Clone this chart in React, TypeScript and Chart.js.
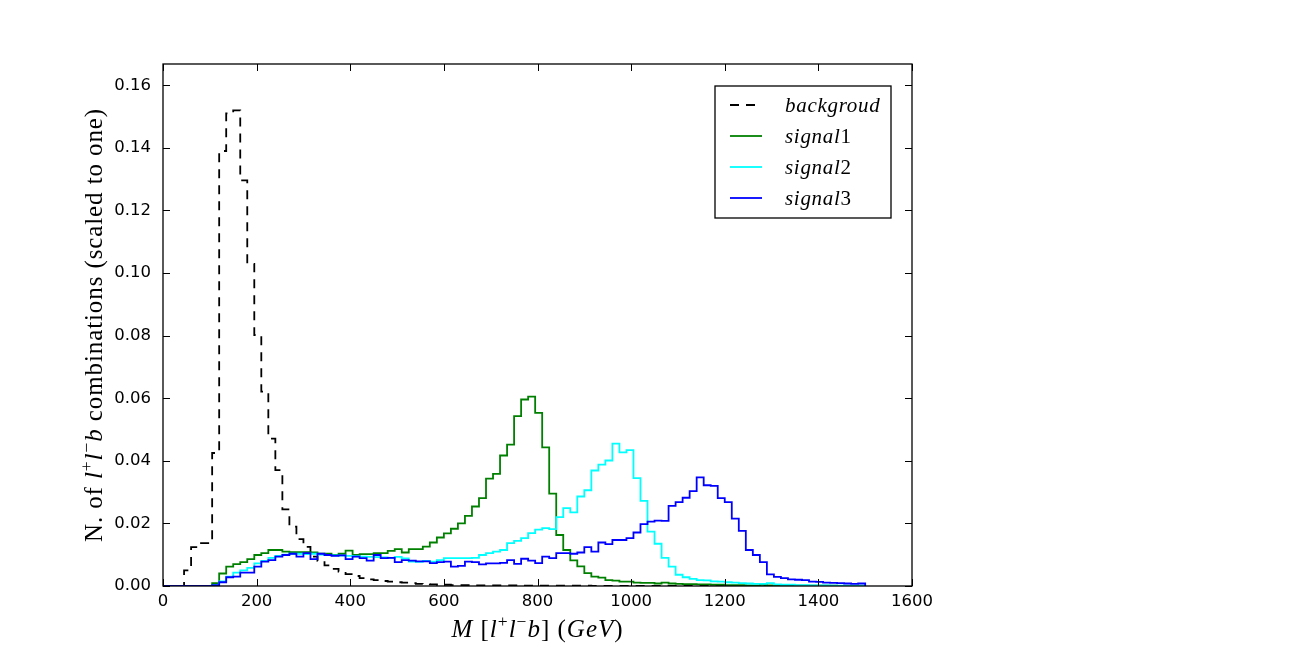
import { useEffect, useRef } from "react";
import { Chart, registerables } from "chart.js";

Chart.register(...registerables);

// Histogram bin edges (GeV): 100 bins of 15 GeV from 0 to 1500
const BIN_WIDTH = 15;
const binStarts: number[] = Array.from({ length: 100 }, (_, i) => i * BIN_WIDTH);
const LAST_EDGE = 1500;

const xTicks = [0, 200, 400, 600, 800, 1000, 1200, 1400, 1600];
const yTicks = [0, 0.02, 0.04, 0.06, 0.08, 0.1, 0.12, 0.14, 0.16];

const labels = ["backgroud", "signal1", "signal2", "signal3"];

const background = [
  0, 0, 0, 0.005, 0.0124, 0.0137, 0.0137, 0.0425, 0.139, 0.151,
  0.152, 0.1296, 0.1029, 0.0802, 0.0621, 0.0471, 0.037, 0.0245, 0.019, 0.015,
  0.0125, 0.0094, 0.008, 0.0066, 0.0055, 0.0046, 0.0038, 0.0032, 0.0025, 0.0021,
  0.0019, 0.0016, 0.0014, 0.0012, 0.0011, 0.0009, 0.0007, 0.0006, 0.0005, 0.0004,
  0.0004, 0.0003, 0.0003, 0.0003, 0.0002, 0.0002, 0.0002, 0.0002, 0.0002, 0.0002,
  0.0002, 0.0001, 0.0001, 0.0001, 0.0001, 0.0001, 0.0001, 0.0001, 0.0001, 0.0001,
  0.0001, 0, 0, 0, 0, 0, 0, 0, 0, 0,
  0, 0, 0, 0, 0, 0, 0, 0, 0, 0,
  0, 0, 0, 0, 0, 0, 0, 0, 0, 0,
  0, 0, 0, 0, 0, 0, 0, 0, 0, 0,
];

const signal1 = [
  0, 0, 0, 0, 0, 0, 0, 0.0009, 0.004, 0.0062,
  0.007, 0.0076, 0.0086, 0.0099, 0.0105, 0.0115, 0.0115, 0.011, 0.0108, 0.0108,
  0.0108, 0.0107, 0.0103, 0.0103, 0.0099, 0.0103, 0.0113, 0.0099, 0.0102, 0.0102,
  0.0105, 0.0105, 0.0112, 0.0118, 0.0107, 0.0118, 0.0118, 0.0126, 0.0139, 0.0155,
  0.0168, 0.0183, 0.02, 0.0224, 0.0254, 0.0281, 0.0343, 0.0358, 0.0417, 0.0452,
  0.0543, 0.0596, 0.0605, 0.0553, 0.0443, 0.0295, 0.0163, 0.0115, 0.0082, 0.0063,
  0.0041, 0.003, 0.0027, 0.0019, 0.0017, 0.0014, 0.0014, 0.0011, 0.001, 0.001,
  0.0008, 0.0011, 0.0008, 0.0007, 0.0006, 0.0006, 0.0005, 0.0005, 0.0004, 0.0004,
  0.0003, 0.0003, 0.0003, 0.0002, 0.0002, 0.0004, 0.0002, 0.0001, 0.0001, 0.0001,
  0.0001, 0.0001, 0.0001, 0.0001, 0.0001, 0.0001, 0, 0, 0, 0,
];

const signal2 = [
  0, 0, 0, 0, 0, 0, 0, 0.0003, 0.0015, 0.003,
  0.0043, 0.005, 0.0058, 0.0072, 0.008, 0.009, 0.0096, 0.01, 0.0103, 0.0103,
  0.0102, 0.0103, 0.01, 0.0099, 0.0098, 0.0097, 0.0096, 0.0095, 0.0094, 0.0093,
  0.0092, 0.0091, 0.009, 0.0093, 0.0088, 0.0078, 0.0077, 0.008, 0.0078, 0.0083,
  0.0089, 0.0089, 0.0089, 0.0089, 0.009, 0.0099, 0.0105, 0.011, 0.0115, 0.0137,
  0.0144, 0.0153, 0.0169, 0.018, 0.0185, 0.0182, 0.022, 0.0249, 0.0235, 0.0286,
  0.0306, 0.0369, 0.0388, 0.0401, 0.0455, 0.0427, 0.0434, 0.0345, 0.0272, 0.0174,
  0.0135, 0.009, 0.0062, 0.0036, 0.0028, 0.0023, 0.0019, 0.0018, 0.0015, 0.0014,
  0.0012, 0.0011, 0.0009, 0.0008, 0.0007, 0.0007, 0.0009, 0.0005, 0.0004, 0.0004,
  0.0003, 0.0003, 0.0002, 0.0002, 0.0002, 0.0001, 0.0001, 0.0001, 0.0001, 0.0001,
];

const signal3 = [
  0, 0, 0, 0, 0, 0, 0, 0.0003, 0.0012, 0.0028,
  0.003, 0.0043, 0.0043, 0.0062, 0.0078, 0.0083, 0.0094, 0.0099, 0.0103, 0.0094,
  0.0105, 0.0086, 0.0103, 0.0099, 0.0096, 0.0098, 0.0086, 0.0094, 0.0089, 0.0081,
  0.0099, 0.0089, 0.009, 0.0076, 0.0083, 0.0081, 0.0079, 0.0079, 0.0073, 0.0076,
  0.0078, 0.0062, 0.0064, 0.0078, 0.0076, 0.0069, 0.0072, 0.0072, 0.0074, 0.0083,
  0.0071, 0.0087, 0.0081, 0.0073, 0.0094, 0.0089, 0.0105, 0.0105, 0.0103, 0.0107,
  0.0124, 0.011, 0.0139, 0.0134, 0.0147, 0.0147, 0.0153, 0.0171, 0.0198, 0.0206,
  0.0209, 0.0208, 0.0256, 0.0268, 0.0282, 0.0303, 0.0347, 0.0322, 0.032, 0.0281,
  0.0268, 0.0215, 0.0176, 0.0115, 0.0099, 0.0076, 0.0037, 0.0029, 0.0025, 0.0021,
  0.002, 0.0019, 0.0014, 0.0013, 0.0011, 0.001, 0.0009, 0.0008, 0.0007, 0.0008,
];

const COLORS = ["#000000", "#008000", "#00ffff", "#0000ff"];

type Seg = { t: string; it?: boolean; sup?: boolean };

const SERIF = '"Liberation Serif", "DejaVu Serif", serif';

function segFont(s: Seg, size: number) {
  const sz = s.sup ? size * 0.7 : size;
  return `${s.it ? "italic " : ""}${sz}px ${SERIF}`;
}

function drawRich(
  ctx: CanvasRenderingContext2D,
  segs: Seg[],
  x: number,
  y: number,
  size: number,
  align: "left" | "center",
  rotate: boolean,
  spacing: number
) {
  ctx.save();
  ctx.translate(x, y);
  if (rotate) ctx.rotate(-Math.PI / 2);
  (ctx as any).letterSpacing = `${spacing}px`;
  ctx.textBaseline = "alphabetic";
  ctx.textAlign = "left";
  ctx.fillStyle = "#000";
  const widths = segs.map((s) => {
    ctx.font = segFont(s, size);
    return ctx.measureText(s.t).width;
  });
  const total = widths.reduce((a, b) => a + b, 0);
  let cx = align === "center" ? -total / 2 : 0;
  segs.forEach((s, i) => {
    ctx.font = segFont(s, size);
    ctx.fillText(s.t, cx, s.sup ? -size * 0.42 : 0);
    cx += widths[i];
  });
  ctx.restore();
}

const yTitle: Seg[] = [
  { t: "N. of " },
  { t: "l", it: true },
  { t: "+", sup: true },
  { t: "l", it: true },
  { t: "\u2212", sup: true },
  { t: "b", it: true },
  { t: " combinations (scaled to one)" },
];

const xTitle: Seg[] = [
  { t: "M", it: true },
  { t: " [" },
  { t: "l", it: true },
  { t: "+", sup: true },
  { t: "l", it: true },
  { t: "\u2212", sup: true },
  { t: "b", it: true },
  { t: "] (" },
  { t: "GeV", it: true },
  { t: ")" },
];

const legendSegs: Seg[][] = [
  [{ t: "backgroud", it: true }],
  [{ t: "signal", it: true }, { t: "1" }],
  [{ t: "signal", it: true }, { t: "2" }],
  [{ t: "signal", it: true }, { t: "3" }],
];

const BG_DASH = [9, 7];

const framePlugin = {
  id: "mplFrame",
  afterDatasetsDraw(chart: any) {
    const { ctx, chartArea } = chart;
    const { left, right, top, bottom } = chartArea;
    const xs = chart.scales.x;
    const ys = chart.scales.y;
    ctx.save();
    ctx.strokeStyle = "#000";
    ctx.lineWidth = 1.3;
    ctx.strokeRect(left, top, right - left, bottom - top);
    const TL = 7;
    ctx.lineWidth = 1;
    ctx.beginPath();
    xTicks.forEach((v) => {
      const px = Math.round(xs.getPixelForValue(v)) + 0.5;
      ctx.moveTo(px, bottom);
      ctx.lineTo(px, bottom - TL);
      ctx.moveTo(px, top);
      ctx.lineTo(px, top + TL);
    });
    yTicks.forEach((v) => {
      const py = Math.round(ys.getPixelForValue(v)) + 0.5;
      ctx.moveTo(left, py);
      ctx.lineTo(left + TL, py);
      ctx.moveTo(right, py);
      ctx.lineTo(right - TL, py);
    });
    ctx.stroke();
    ctx.restore();
  },
  afterDraw(chart: any) {
    const { ctx, chartArea } = chart;
    const cxMid = (chartArea.left + chartArea.right) / 2;
    const cyMid = (chartArea.top + chartArea.bottom) / 2;
    drawRich(ctx, yTitle, 102, cyMid, 25, "center", true, 0.9);
    drawRich(ctx, xTitle, cxMid, 637, 25, "center", false, 1.0);

    // legend
    const bx = 715, by = 86, bw = 176, bh = 132;
    ctx.save();
    ctx.fillStyle = "#fff";
    ctx.fillRect(bx, by, bw, bh);
    ctx.strokeStyle = "#000";
    ctx.lineWidth = 1.3;
    ctx.strokeRect(bx, by, bw, bh);
    const rows = [105, 136, 167, 198];
    rows.forEach((ry, i) => {
      ctx.beginPath();
      ctx.strokeStyle = COLORS[i];
      ctx.lineWidth = 1.8;
      ctx.setLineDash(i === 0 ? BG_DASH : []);
      ctx.moveTo(730, ry);
      ctx.lineTo(762, ry);
      ctx.stroke();
      ctx.setLineDash([]);
      drawRich(ctx, legendSegs[i], 785, ry + 6.5, 21, "left", false, 0.7);
    });
    ctx.restore();
  },
};

function histPoints(vals: number[]) {
  const pts = binStarts.map((x, i) => ({ x, y: vals[i] }));
  pts.push({ x: LAST_EDGE, y: 0 });
  return pts;
}

export default function App() {
  const ref = useRef<HTMLCanvasElement | null>(null);

  useEffect(() => {
    if (!ref.current) return;
    const series = [background, signal1, signal2, signal3];
    const chart = new Chart(ref.current, {
      type: "line",
      data: {
        datasets: series.map((vals, i) => ({
          label: labels[i],
          data: histPoints(vals),
          borderColor: COLORS[i],
          backgroundColor: COLORS[i],
          borderWidth: 1.8,
          borderDash: i === 0 ? BG_DASH : [],
          borderJoinStyle: "miter" as const,
          borderCapStyle: "butt" as const,
          pointRadius: 0,
          pointHoverRadius: 0,
          stepped: true,
          fill: false,
          tension: 0,
          order: 4 - i,
        })),
      },
      options: {
        responsive: false,
        animation: false,
        parsing: false,
        events: [],
        layout: { padding: { top: 64, right: 392, bottom: 0, left: 0 } },
        plugins: {
          legend: { display: false },
          tooltip: { enabled: false },
          title: { display: false },
        },
        scales: {
          x: {
            type: "linear",
            min: 0,
            max: 1600,
            grid: { display: false, drawTicks: false },
            border: { display: false },
            ticks: {
              stepSize: 200,
              padding: 6,
              color: "#000",
              font: { family: '"DejaVu Sans", sans-serif', size: 16.5 },
              maxRotation: 0,
              autoSkip: false,
              callback: (v: any) => String(v),
            },
            afterFit: (s: any) => {
              s.height = 66;
            },
          },
          y: {
            type: "linear",
            min: 0,
            max: 0.1668,
            grid: { display: false, drawTicks: false },
            border: { display: false },
            ticks: {
              stepSize: 0.02,
              includeBounds: false,
              padding: 12,
              color: "#000",
              font: { family: '"DejaVu Sans", sans-serif', size: 16.5 },
              callback: (v: any) => Number(v).toFixed(2),
            },
            afterFit: (s: any) => {
              s.width = 163;
            },
          },
        },
      },
      plugins: [framePlugin],
    });
    return () => chart.destroy();
  }, []);

  return (
    <div style={{ position: "absolute", left: 0, top: 0, width: 1304, height: 652, background: "#fff" }}>
      <canvas ref={ref} width={1304} height={652} style={{ width: 1304, height: 652 }} />
    </div>
  );
}
